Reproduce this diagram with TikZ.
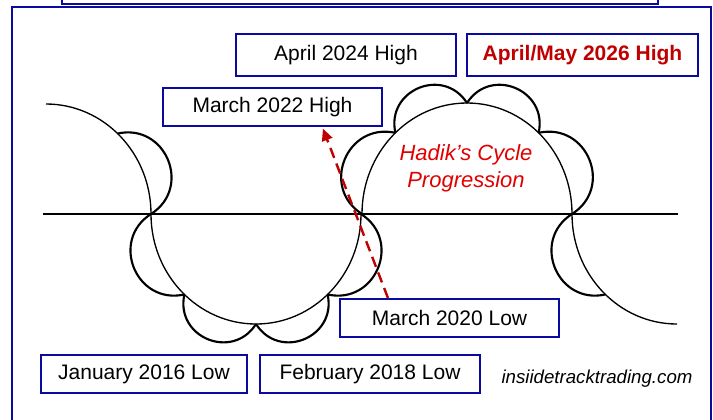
\documentclass[tikz,border=0pt]{standalone}
\usepackage{fontspec}
\setmainfont{Liberation Sans}
\usetikzlibrary{calc,arrows.meta}
\definecolor{framblue}{RGB}{10,10,160}
\definecolor{darkred}{RGB}{192,0,0}
\definecolor{brightred}{RGB}{225,0,0}
\tikzset{
  frameline/.style={draw=framblue, line width=1.6pt},
  labelbox/.style={draw=framblue, line width=1.6pt, fill=white, inner sep=0pt,
    minimum height=28.5pt, font=\fontsize{15.75}{18}\selectfont},
  scallop/.style={draw=black, line width=1.6pt},
  innerarc/.style={draw=black, line width=1pt},
  axisline/.style={draw=black, line width=1.3pt},
  dasharrow/.style={draw=darkred, line width=1.8pt, dash pattern=on 8pt off 4.5pt,
    -{Triangle[length=9pt,width=8pt]}},
}
\begin{document}
\begin{tikzpicture}[x=0.75pt,y=0.75pt]
\useasboundingbox (0,0) rectangle (713,-419);
% frames
\draw[frameline] (62,10) rectangle (658,-4);
\draw[frameline] (12,-7) rectangle (711,-440);
% centers
\coordinate (lc) at (256,-214);
\coordinate (uc) at (467,-214);
\coordinate (pl) at (46,-214);
\coordinate (pr) at (677,-214);
% axis
\draw[axisline] (43,-214) -- (678,-214);
% inner arcs
\draw[innerarc] ($(lc)+(180:105 and 110)$) arc[start angle=180, end angle=360, x radius=105, y radius=110];
\draw[innerarc] ($(uc)+(0:105 and 111)$) arc[start angle=0, end angle=180, x radius=105, y radius=111];
\draw[innerarc] ($(pl)+(90:105 and 110)$) arc[start angle=90, end angle=0, x radius=105, y radius=110];
\draw[innerarc] ($(pr)+(180:105 and 110)$) arc[start angle=180, end angle=270, x radius=105, y radius=110];
% scallops
\foreach \c/\ry/\a/\b in {lc/110/180/227, lc/110/227/270, lc/110/270/313, lc/110/313/360,
                      uc/111/0/47, uc/111/47/90, uc/111/90/133, uc/111/133/180,
                      pl/110/0/47, pr/110/180/227}
  \draw[scallop] ($(\c)+(\a:105 and \ry)$) to[bend right=80, looseness=1.45] ($(\c)+(\b:105 and \ry)$);
% labels
\node[labelbox, minimum width=165pt, minimum height=31.5pt] (a24) at (346,-55) {April 2024 High};
\node[labelbox, minimum width=173.25pt, minimum height=31.5pt, text=darkred, font=\fontsize{15.75}{18}\selectfont\bfseries] (a26) at (582.5,-55) {April/May 2026 High};
\node[labelbox, minimum width=164.25pt] (m22) at (272.5,-107) {March 2022 High};
\node[labelbox, minimum width=164.25pt] (m20) at (449.5,-318) {March 2020 Low};
\node[labelbox, minimum width=154.5pt] (j16) at (144,-374) {January 2016 Low};
\node[labelbox, minimum width=164.6pt] (f18) at (370,-374) {February 2018 Low};
\node[text=brightred, align=center, font=\fontsize{16.5}{20}\selectfont\itshape] (hadik) at (466,-168) {Hadik’s Cycle\\Progression};
\node[font=\fontsize{14}{16}\selectfont\itshape] (site) at (597,-379) {insiidetracktrading.com};
% arrow
\draw[dasharrow] ($(m20.north west)+(49,0)$) -- ($(m22.south west)+(161,-1.5)$);
\end{tikzpicture}
\end{document}
